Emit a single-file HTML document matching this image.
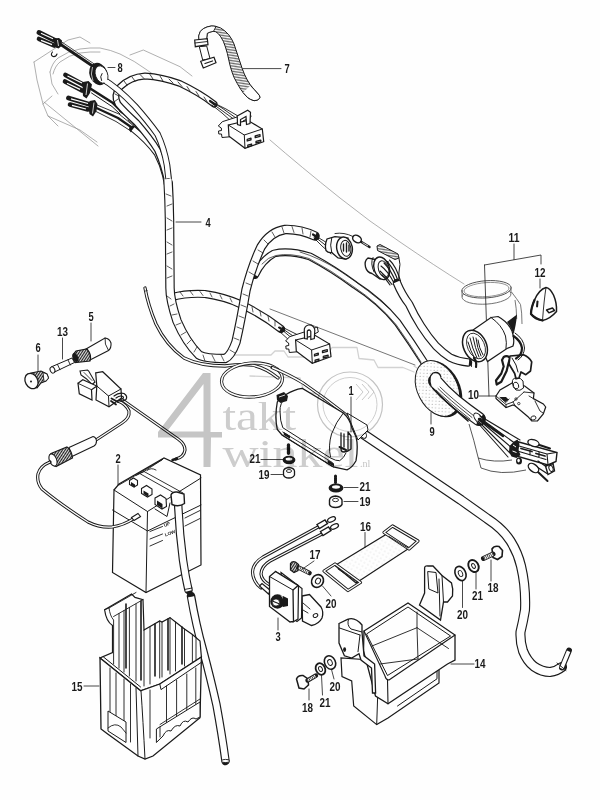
<!DOCTYPE html>
<html><head><meta charset="utf-8">
<style>
html,body{margin:0;padding:0;background:#fefefe;}
body{width:600px;height:800px;overflow:hidden;font-family:"Liberation Sans",sans-serif;}
svg{display:block;position:absolute;left:0;top:0;}
.k{stroke:#1a1a1a;fill:none;stroke-linecap:round;stroke-linejoin:round;}
.g{stroke:#8e8e8e;fill:none;stroke-width:0.7;stroke-linecap:round;stroke-linejoin:round;}
.f{fill:#1a1a1a;stroke:none;}
.w{fill:#fefefe;}
text{font-family:"Liberation Sans",sans-serif;font-weight:bold;fill:#1a1a1a;}
</style></head>
<body>
<svg width="600" height="800" viewBox="0 0 600 800">
<g id="framegray" class="g">
<path d="M34,62 L68,40 L80,37 L90,43"/>
<path d="M34,62 L37,80 L43,104 L48,116 L58,126"/>
<path d="M43,104 L52,96"/>
<path d="M50,72 Q52,63 58,58 Q68,51 80,49 Q90,47.5 100,48 Q111,50 120,54 Q135,61 147,70 L157,77"/>
<path d="M53,74 Q55,66 60,62 Q69,55 80,53 Q90,51.5 100,52"/>
<path d="M50,72 L52,84 L58,94"/>
<path d="M44,102 L98,146"/>
<path d="M48,116 L80,130 L97,142"/>
<path d="M130,55 L143.3,50 L180,66.7 L192,76"/>
<path d="M270,140 Q300,166 340,198 Q370,222 400,242 Q435,266 464,284"/>
<path d="M235,355 L271,355 L275,351 L284,351 L288,357 L326,357 L332,347.5 L357,347.5 L359,358.5 L374,360 L378,367.5 L403,367.5 L414,372" stroke="#d2d2d2" stroke-width="1.3"/>
<path d="M250,376 L300,378 L304,392 L318,394" stroke="#d2d2d2" stroke-width="1.3"/>
<path d="M414,366 Q424,372 430,380" stroke="#d2d2d2" stroke-width="1.3"/>
</g>
<g id="tileA">
<!-- wires from top bullet connector to grommet -->
<path class="k" stroke-width="2.8" d="M60,44 L94,67"/>
<path class="k" stroke-width="0.8" d="M61,41.5 L95,64.5"/>
<!-- small clip -->
<path class="k" stroke-width="1.1" fill="#fefefe" d="M52.5,52 q-2.5,3 0.5,4.5 q3,0.5 4,-2.5"/>
<!-- top bullet pair -->
<path class="k" stroke-width="4.8" d="M39,32.5 L56,41"/>
<path class="k" stroke-width="4.6" d="M39,39 L54,45.5"/>
<path stroke="#fefefe" stroke-width="1.2" fill="none" d="M41,33.3 L53,38.8 M41,40.4 L52,44.6"/>
<path class="f" d="M54,38.5 L59,38 L62,40.5 L61.5,46 L58.5,48.5 L54.5,47 Z"/>
<path stroke="#fefefe" stroke-width="0.8" fill="none" d="M57.5,40 L58.5,46"/>
<!-- bullets 2 -->
<path class="k" stroke-width="4.8" d="M65.5,75 L84,85"/>
<path class="k" stroke-width="4.6" d="M65,81.5 L82,90.5"/>
<path stroke="#fefefe" stroke-width="1.2" fill="none" d="M67.5,76 L82,83 M67,83.2 L80,89.4"/>
<path class="f" d="M83,82 L88.5,81 L92,84.5 L90,93 L86.5,98.5 L83,96 L82.5,90 Z"/>
<path stroke="#fefefe" stroke-width="0.8" fill="none" d="M87.5,83.5 L86,95"/>
<!-- bullets 3 -->
<path class="k" stroke-width="4.8" d="M68.5,98 L90,104.5"/>
<path class="k" stroke-width="4.6" d="M70,104.5 L88,109.5"/>
<path stroke="#fefefe" stroke-width="1.2" fill="none" d="M71,98.8 L88,103.5 M72,105.3 L86,109"/>
<path class="f" d="M89.5,101 L95,100 L97.5,104 L96.5,111 L93,116.5 L89.5,114 L88.5,108 Z"/>
<path stroke="#fefefe" stroke-width="0.8" fill="none" d="M94,102.5 L92.5,113.5"/>
<!-- wires from bullets to bundle -->
<path class="k" stroke-width="2.6" d="M91,89 L113,103 L122,112"/>
<path class="k" stroke-width="1" d="M91.5,93 L112,106.5 L120,114"/>
<path class="k" stroke-width="2.2" d="M96.5,108 L118,118 L131,127"/>
<path class="k" stroke-width="0.9" d="M96,111.5 L116,121.5 L130,130.5"/>
<path class="k" stroke-width="0.9" d="M97,105 L119,114 L140,131"/>
<!-- bundle of wires towards harness -->
<path class="k" stroke-width="6.6" d="M133,129 Q147,140 157,153.5 Q163,165 165.5,176 L167.5,186"/>
<path stroke="#fefefe" stroke-width="4.6" fill="none" d="M133,129 Q147,140 157,153.5 Q163,165 165.5,176 L167.5,187"/>
<path class="k" stroke-width="1.4" d="M130.5,126.5 q-1.5,2.5 0.5,5"/>
<path class="k" stroke-width="0.9" d="M122,112 Q140,126 150,139 M128,120 Q142,131 149,141"/>
<path class="k" stroke-width="1.8" d="M120,111 Q134,121 143,131"/>
<!-- braided branch -->
<path class="k" stroke-width="6.9" d="M168,184 Q164,165 157.6,150.3 Q150,138 136.3,122.3 Q124,111 118,104 Q113,95 120,87 Q130,77 145,76 Q162,77 180,83.5 Q200,93 214,104"/>
<path stroke="#fefefe" stroke-width="4.4" fill="none" stroke-linecap="round" d="M168,184 Q164,165 157.6,150.3 Q150,138 136.3,122.3 Q124,111 118,104 Q113,95 120,87 Q130,77 145,76 Q162,77 180,83.5 Q200,93 214,104"/>
<path class="k" stroke-width="0.8" d="M114,102 l4,-3 M115,94 l4,2 M118,88 l4,2 M124,81 l3,4 M132,77 l3,4 M140,74.5 l4,4 M150,74.5 l3,4.5 M160,76 l3,5 M169,79 l4,4 M178,82 l4,4.5 M187,86.5 l3,4.5 M196,91.5 l3,4.5 M204,97 l3,4.5"/>
<!-- tube from grommet -->
<path class="k" stroke-width="6.6" d="M101,78 Q118,88 135,106.3 Q148,121 157.6,134.3 Q164,148 167,165 L169.5,186"/>
<path stroke="#fefefe" stroke-width="4.6" fill="none" d="M101,78 Q118,88 135,106.3 Q148,121 157.6,134.3 Q164,148 167,165 L169.5,187"/>
<!-- grommet -->
<ellipse cx="98.5" cy="74" rx="9" ry="11.4" transform="rotate(-22 98.5 74)" class="f"/>
<ellipse cx="101.5" cy="74.5" rx="6" ry="9" transform="rotate(-22 101.5 74.5)" fill="#fefefe" stroke="#1a1a1a" stroke-width="0.8"/>
<path stroke="#fefefe" stroke-width="3.9" fill="none" d="M103,79.2 L108,82.5"/>
<path class="k" stroke-width="1" d="M102,73.5 Q99.5,76.5 101.5,80.5"/>
<path stroke="#fefefe" stroke-width="0.7" fill="none" d="M92.5,67 q-2.5,7 0.5,14"/>
<!-- label leader 8 -->
</g>
<g id="tileB">
<defs>
<pattern id="hatch" width="1.6" height="1.6" patternUnits="userSpaceOnUse" patternTransform="rotate(-5)">
<rect width="1.6" height="1.6" fill="#fefefe"/><rect width="1.6" height="0.7" fill="#555"/>
</pattern>
</defs>
<!-- strap 7 -->
<path d="M198.7,36 Q199.5,30.5 203.3,28.7 Q207,26.5 211.3,26 Q216,25.8 220.7,28 Q225,30.5 228.7,34.7 Q232,39 234,44 L238,56 L242,68 Q244,74 247.3,80 Q250,85 254,89.3 L259.3,95.3 Q260.5,97.5 259.3,98.7 Q257.5,100.7 254,100.7 Q250,99.5 247.3,97.3 Q243.5,93.5 240.7,89.3 Q237,83.5 234,77.3 Q231.5,71.5 230,65.3 L227.3,53.3 Q225.5,46.5 223.3,41.3 Q221,36.5 218,33.3 Q215.5,31 212.7,31.3 Q209.5,32 207.3,33.3 L206.5,40 L199,40.5 Z" fill="url(#hatch)" stroke="#1a1a1a" stroke-width="1"/>
<path d="M198.7,36 Q199.5,30.5 203.3,28.7 Q207,26.5 211.3,26 Q214,25.8 216,26.5 L213.5,31.3 Q209.5,32 207.3,33.3 L206.5,40 L199,40.5 Z" fill="#fefefe" stroke="#1a1a1a" stroke-width="0.9"/>
<path d="M243,92.5 L250.5,85.5 L254,89.3 L259.3,95.3 Q260.5,97.5 259.3,98.7 Q257.5,100.7 254,100.7 Q250,99.5 247.3,97.3 Z" fill="#fefefe" stroke="none"/>
<path d="M250.5,85.5 L254,89.3 L259.3,95.3 Q260.5,97.5 259.3,98.7 Q257.5,100.7 254,100.7 Q250,99.5 247.3,97.3 L243,92.5" fill="none" stroke="#1a1a1a" stroke-width="1"/>
<!-- buckle -->
<path d="M194.7,40 L207.3,38.7 L208,44.7 L195.3,46.7 Z" fill="#fefefe" stroke="#1a1a1a" stroke-width="1.2"/>
<path d="M195,43 L207.6,41.5" class="k" stroke-width="0.9"/>
<path d="M199.3,46.7 L206.7,46 L210,58.7 L202.7,60 Z" fill="#fefefe" stroke="#1a1a1a" stroke-width="1"/>
<path d="M200.7,61.3 L214,57.3 L216,62.7 L203.3,68 Z" fill="#fefefe" stroke="#1a1a1a" stroke-width="1.2"/>
<path d="M205,63.5 L212.5,61" class="k" stroke-width="1.3"/>
<!-- thin wires into connector -->
<path class="k" stroke-width="0.9" d="M212,102 L222,108 L236,118 M213,104 L224,112 L235,120 M212,105 L222,113 L232,122 M214,103 L226,109 L238,116"/>
<path class="k" stroke-width="2.2" d="M210,101 L215,104.5"/>
<!-- plate/bracket -->
<path d="M218.3,126.0 L222.3,121.7 L237.0,117.0 L250.0,112.0 L251.0,117.0 L243.0,121.0 L243.0,128.0 L233.0,131.0 L233.0,136.5 L222.0,137.5 L221.5,134.0 L218.8,134.0 L218.5,131.0 L221.5,130.5 L221.3,128.0 Z" fill="#fefefe" stroke="#1a1a1a" stroke-width="1"/>
<path d="M228.3,125.0 L247.7,120.3 L262.3,129.0 L263.7,141.7 L245.0,148.3 L229.0,136.3 Z" fill="#fefefe" stroke="#1a1a1a" stroke-width="1.2"/>
<path class="k" stroke-width="1" d="M228.3,125.0 L244.3,135.0 L262.3,129.0 M244.3,135.0 L245.0,148.3"/>
<path class="k" stroke-width="1.3" d="M247.2,139.4 L251.0,138.2 L251.0,139.8 L247.2,141.0 Z"/>
<path class="k" stroke-width="1.3" d="M255.2,135.8 L260.0,134.6 L260.0,136.4 L255.2,137.6 Z"/>
<path class="k" stroke-width="1.3" d="M247.8,145.2 L251.6,144.0 L251.6,145.6 L247.8,146.8 Z"/>
<path class="k" stroke-width="1.3" d="M256.0,141.4 L260.8,140.2 L260.8,141.8 L256.0,143.0 Z"/>
<path d="M237.2,116.0 L247.7,110.3 L250.5,112.3 L250.0,123.5 L246.5,124.5 L246.0,116.5 L240.5,119.5 L240.5,125.5 L237.5,124.5 Z" fill="#fefefe" stroke="#1a1a1a" stroke-width="1.2"/>
</g>
<g id="tileC">
<!-- thin straight line -->
<path class="k" stroke-width="0.6" d="M270,309 L415,365"/>
<!-- thin wire (left of loop) double line -->
<path class="k" stroke-width="3.3" d="M145,288 Q148,305 156,324 Q166,345 184,358 Q200,366 225,366 Q240,364 252,365 Q266,368 278,378"/>
<path stroke="#fefefe" stroke-width="1.4" fill="none" stroke-linecap="round" d="M145,288 Q148,305 156,324 Q166,345 184,358 Q200,366 225,366 Q240,364 252,365 Q266,368 278,378"/>
<path class="k" stroke-width="0.8" d="M145.5,291 l1.6,-0.4"/>
<!-- branch to connector 2 -->
<path class="k" stroke-width="8.1" stroke-linecap="butt" d="M172,297 Q187,293 205,294 Q225,297 240,304 Q262,314 281,329"/>
<path stroke="#fefefe" stroke-width="5.8" fill="none" d="M172,297 Q187,293 205,294 Q225,297 240,304 Q262,314 281,329"/>
<path class="k" stroke-width="0.7" d="M180,292 l3,4 M190,291 l3,4 M200,291.5 l3,4 M210,293 l2,4 M220,295 l2,4 M230,298 l2,4 M252,307 l1,5 M260,311 l1,5 M268,316 l1,5 M275,321 l0,5"/>
<!-- wires to connector 2 -->
<path class="k" stroke-width="0.9" d="M280,327 L296,338 L304,341 M281,329 L294,340 L300,344 M279,331 L290,341 L297,347 M282,327 L298,335 L306,338"/>
<path class="k" stroke-width="2" d="M279,327.5 L284,331"/>
<!-- lower tube to grommet 9 -->
<path class="k" stroke-width="7.9" stroke-linecap="butt" d="M255,275 Q262,260 274,253.5 Q289,250 310,256.5 Q332,268 355,285 Q380,301 397.5,322.5 Q412,343 424,362 L432,378"/>
<path stroke="#fefefe" stroke-width="5.6" fill="none" d="M255,275 Q262,260 274,253.5 Q289,250 310,256.5 Q332,268 355,285 Q380,301 397.5,322.5 Q412,343 424,362 L432,378"/>
<path class="k" stroke-width="0.7" d="M262,264 Q268,257 276,255.5 Q290,252.5 309,258.5 Q331,270 354,287 Q378,303 396,324.5 Q410,344 421,362"/>
<path class="k" stroke-width="0.7" d="M300,252 Q320,258 340,271 Q370,291 390,309"/>
<!-- loop harness -->
<path class="k" stroke-width="9.5" stroke-linecap="butt" d="M168.2,183 Q169.2,200 169.5,220 L170,288 Q170,300 177,321 Q186,342 199,355 Q205,358.5 225,358.5 Q231,356 236,342 Q241,320 246,290 Q252,266 261,247 Q270,232 285,229.5 Q300,229 315,236"/>
<path stroke="#fefefe" stroke-width="7.2" fill="none" stroke-linecap="butt" d="M167.9,179 Q169.2,200 169.5,220 L170,288 Q170,300 177,321 Q186,342 199,355 Q205,358.5 225,358.5 Q231,356 236,342 Q241,320 246,290 Q252,266 261,247 Q270,232 285,229.5 Q300,229 315,236"/>
<path class="k" stroke-width="0.7" d="M166,194 l5,2 M167,206 l5,-2 M167,218 l5,3 M167,230 l5,-2 M167,242 l5,3 M167,254 l5,-2 M167,266 l5,3 M167,278 l5,-2 M167,296 l4,3 M170,306 l4,-2 M172,315 l5,-1 M176,325 l5,-2 M181,335 l5,-3 M187,344 l4,-4 M194,352 l3,-5 M203,355 l2,6 M212,355 l3,6 M221,355 l3,6 M230,350 l5,3 M234,338 l5,2 M237,327 l5,2 M239,316 l5,2 M241,305 l5,2 M243,294 l5,2 M246,283 l5,2 M249,272 l5,3 M253,261 l5,3 M258,250 l5,3 M264,240 l4,4 M272,232 l3,5 M282,227 l2,6 M292,226.5 l2,6 M302,228 l1,6 M311,231 l-1,6"/>
<!-- wires to socket1 -->
<path class="k" stroke-width="0.9" d="M314,235 L324,241 L332,246 M315,237 L324,244 L331,250 M314,238 L322,246 L331,254"/>
<path class="k" stroke-width="2.2" d="M313,234.5 L318,238"/>
<!-- socket 1 -->
<path d="M335,236.7 L327,239 Q324.5,245 326,250.5 Q328,253 331.7,252.5 L338,258 L346,259 L348,238 Z" fill="#fefefe" stroke="#1a1a1a" stroke-width="1.3"/>
<path class="k" stroke-width="1" d="M331.7,238 Q329.5,245 331.7,252.5"/>
<ellipse cx="344.5" cy="248" rx="7.8" ry="11" transform="rotate(-10 344.5 248)" fill="#fefefe" stroke="#1a1a1a" stroke-width="1.4"/>
<ellipse cx="345.8" cy="248.3" rx="5" ry="8" transform="rotate(-10 345.8 248.3)" fill="#fefefe" stroke="#1a1a1a" stroke-width="1"/>
<path class="k" stroke-width="1.4" d="M343.5,244 v7 M346.5,243 v9 M349,245 v6"/>
<path class="k" stroke-width="0.9" d="M335,233.5 Q344,232 353,236.5"/>
<!-- small bullet -->
<ellipse cx="357" cy="239" rx="4.6" ry="3.4" transform="rotate(30 357 239)" fill="#fefefe" stroke="#1a1a1a" stroke-width="1.5"/>
<path class="k" stroke-width="2.4" d="M361.5,242 L369.5,247"/>
<path stroke="#fefefe" stroke-width="0.8" d="M362.5,242.6 L368,246"/>
<!-- plug with sleeve -->
<path d="M377,246 L380,244.5 L398,254 L399,258 L395,259.5 L377.5,250.5 Z" fill="url(#hatch)" stroke="#1a1a1a" stroke-width="1"/>
<path class="k" stroke-width="1" d="M399,258 Q401,264 399,272 Q398,280 400,285"/>
<!-- socket 2 -->
<path d="M368,258 Q364,261 365.5,267 Q367,272.5 372,273.5 L380,279 L388,262 Z" fill="#fefefe" stroke="#1a1a1a" stroke-width="1.3"/>
<path class="k" stroke-width="1" d="M373,257.5 Q370,263 374,272"/>
<ellipse cx="381.7" cy="268.3" rx="7.6" ry="11.6" transform="rotate(-18 381.7 268.3)" fill="#fefefe" stroke="#1a1a1a" stroke-width="1.4"/>
<ellipse cx="383.5" cy="269" rx="5" ry="8.4" transform="rotate(-18 383.5 269)" fill="#fefefe" stroke="#1a1a1a" stroke-width="1"/>
<path class="k" stroke-width="1.1" d="M381,266 Q388,271 394,283 M384,263 Q391,270 396,282.5 M387,261.5 Q394,269 398.5,282 M380,271 Q386,276 392,284.5 M389.5,260 Q396,266 400.5,281 M382,275 Q386,279 390,285"/>
<!-- tube socket2 -> switch -->
<path class="k" stroke-width="8.5" stroke-linecap="butt" d="M397,283 Q402,295 409,304 Q414,315 421,326 Q428,337 436,346 Q443,353 450,357.5 Q458,361.5 468,362.5"/>
<path stroke="#fefefe" stroke-width="6.2" fill="none" d="M396.6,282 Q402,295 409,304 Q414,315 421,326 Q428,337 436,346 Q443,353 450,357.5 Q458,361.5 469,362.5"/>
<!-- connector 2 block -->
<path d="M285.6,341.0 L289.6,336.7 L304.3,332.0 L317.3,327.0 L318.3,332.0 L310.3,336.0 L310.3,343.0 L300.3,346.0 L300.3,351.5 L289.3,352.5 L288.8,349.0 L286.1,349.0 L285.8,346.0 L288.8,345.5 L288.6,343.0 Z" fill="#fefefe" stroke="#1a1a1a" stroke-width="1"/>
<path d="M295.6,340.0 L315.0,335.3 L329.6,344.0 L331.0,356.7 L312.3,363.3 L296.3,351.3 Z" fill="#fefefe" stroke="#1a1a1a" stroke-width="1.2"/>
<path class="k" stroke-width="1" d="M295.6,340.0 L311.6,350.0 L329.6,344.0 M311.6,350.0 L312.3,363.3"/>
<path class="k" stroke-width="1.3" d="M314.5,354.4 L318.3,353.2 L318.3,354.8 L314.5,356.0 Z"/>
<path class="k" stroke-width="1.3" d="M322.5,350.8 L327.3,349.6 L327.3,351.4 L322.5,352.6 Z"/>
<path class="k" stroke-width="1.3" d="M315.1,360.2 L318.9,359.0 L318.9,360.6 L315.1,361.8 Z"/>
<path class="k" stroke-width="1.3" d="M323.3,356.4 L328.1,355.2 L328.1,356.8 L323.3,358.0 Z"/>
<path d="M304.3,331.0 Q303.8,326.5 308.3,325.0 Q313.8,324.5 314.8,330.0 L314.3,338.5 L310.8,339.5 L310.8,331.5 Q309.3,328.5 307.3,331.0 L307.3,339.0 L304.6,338.5 Z" fill="#fefefe" stroke="#1a1a1a" stroke-width="1.2"/>
</g>
<g id="tileC2">
<defs>
<pattern id="dots" width="3.4" height="3.4" patternUnits="userSpaceOnUse" patternTransform="rotate(30)">
<rect width="3.4" height="3.4" fill="#fefefe"/><circle cx="1" cy="1" r="0.45" fill="#777"/>
</pattern>
</defs>
<!-- ring (frame tube top) -->
<path stroke="#555" fill="none" stroke-width="0.8" d="M511.5,292 Q517,299 520.5,304.5 Q522,312 522,324 M515,300 Q516.5,308 516.7,319"/>
<ellipse cx="486.5" cy="295.5" rx="24.5" ry="8.6" transform="rotate(-4 486.5 295.5)" fill="#fefefe" stroke="#555" stroke-width="0.8"/>
<ellipse cx="486.5" cy="289.3" rx="24.7" ry="8.6" transform="rotate(-4 486.5 289.3)" fill="#fefefe" stroke="#444" stroke-width="0.9"/>
<ellipse cx="486.5" cy="289.6" rx="22.5" ry="7" transform="rotate(-4 486.5 289.6)" fill="none" stroke="#666" stroke-width="0.7"/>
<path stroke="#555" fill="none" stroke-width="0.8" d="M462,290 V296.5 M511,287 V293"/>
<!-- frame tube lower -->
<path stroke="#444" fill="none" stroke-width="0.9" d="M469,424 Q474,440 478,457 L481,468 Q500,476 526,470 M478,458 Q494,463 512,460"/>
<!-- bracket lines 11 -->
<path class="k" stroke-width="0.8" d="M514,244 V259.5 M484.5,265 L541,255 V264 M484.5,265 L489,396 M540,279 V288"/>
<path class="k" stroke-width="0.8" d="M479,396 H497"/>
<!-- key cap 12 -->
<path d="M546,287.5 Q539,289.5 534.5,300 Q531,308 531,314 Q535,319 542.5,320.5 Q550,319 556.5,311.5 Q557,303 553.5,295 Q550,288 546,287.5 Z" fill="#fefefe" stroke="#1a1a1a" stroke-width="1.5"/>
<path class="k" stroke-width="2.2" d="M534.5,300 Q531,308 531,314 Q535,319 542.5,320.5"/>
<path class="k" stroke-width="0.9" d="M546,287.5 Q544,300 542.5,320.5"/>
<path class="f" d="M536.5,301 q1.5,-1 2,0.5 l-0.5,5.5 q-1.2,1 -2,-0.5 Z"/>
<path class="k" stroke-width="1.4" d="M546.5,310 l6,-2 l2,2.5 l-5.6,2.3 Z"/>
<!-- bracket 10 -->
<path d="M496,396 L500,390 L513,382.5 L524.7,386 L534,393 L533.4,398.6 L543.3,404 L545.7,407 L543.3,414 L537.5,421 L531.7,421 L528,416.7 L515.3,406 L513,405 L506,407.5 L496,398.5 Z" fill="#fefefe" stroke="#1a1a1a" stroke-width="1.2"/>
<path class="k" stroke-width="0.9" d="M496,396 L506,404.5 L513,402 L524,392 M506,404.5 L506,407.5 M513,402 L515.3,406 M500,397.5 L506,402.5 L509,399 M524,392 L534,393 M533.4,398.6 L529,396 M535,401 L540,411 L543,413"/>
<path class="f" d="M499.5,397 L505.5,402 L508.5,399.5 L506,397 Z"/>
<ellipse cx="533.4" cy="418" rx="2.6" ry="2" transform="rotate(-20 533.4 418)" fill="#fefefe" stroke="#1a1a1a" stroke-width="0.9"/>
<circle cx="516" cy="399" r="1.2" fill="none" stroke="#1a1a1a" stroke-width="0.8"/>
<circle cx="518.8" cy="403.6" r="1.2" fill="none" stroke="#1a1a1a" stroke-width="0.8"/>
<path d="M512.4,382 Q512,378.5 516,378 Q521,377.5 523,381 L523.5,388 Q520,391.5 516,390 Q512.5,388 512.4,382 Z" fill="#fefefe" stroke="#1a1a1a" stroke-width="1"/>
<ellipse cx="516" cy="385.5" rx="2.6" ry="3.4" transform="rotate(-20 516 385.5)" fill="#fefefe" stroke="#1a1a1a" stroke-width="0.9"/>
<!-- keys -->
<path d="M503.7,357 Q507,355 510,358 L508.3,364 L506.6,371 L501.3,381.7 L496.7,384.5 L496,380.5 L501.3,373.5 L503.7,366.5 L502,360 Z" fill="#fefefe" stroke="#1a1a1a" stroke-width="2.2" stroke-linejoin="round"/>
<path d="M510,356 L523.5,354.8 Q529,357 531.7,361.8 L530.5,371 L525.8,374.7 L521,372 L519,378 L516,378.7 L514.7,373.5 L509,364 Z" fill="#fefefe" stroke="#1a1a1a" stroke-width="1.7" stroke-linejoin="round"/>
<path class="k" stroke-width="1" d="M512,358 L516,365 L518,372"/>
<!-- switch body -->
<path d="M473,330 L491,317.5 L498,316.5 Q508,322 512,331 Q515,340 513,346 L507,348.5 L487.5,361.5 Z" fill="#fefefe" stroke="#1a1a1a" stroke-width="1.2"/>
<path class="k" stroke-width="1" d="M491,317.5 Q502,325 505.5,336 Q507,343 506,348.5"/>
<path class="f" d="M507,322 L517,314.5 Q516,326 513.5,334 Q511,327 507,322 Z"/>
<ellipse cx="475" cy="346" rx="11.5" ry="16.5" transform="rotate(-24 475 346)" fill="#fefefe" stroke="#1a1a1a" stroke-width="1.5"/>
<ellipse cx="476" cy="346" rx="8.5" ry="13.5" transform="rotate(-24 476 346)" fill="#fefefe" stroke="#1a1a1a" stroke-width="0.8"/>
<path class="k" stroke-width="1" d="M470,338 Q472,348 477,358 M473,337 Q475,348 479,357 M476,338 Q477,348 481,356 M478,340 Q479,348 483,355 M468,342 Q470,350 475,359"/>
<!-- key ring -->
<path class="k" stroke-width="2.2" d="M513.5,336 Q521,341 522,348 Q522,355 516,358.5"/>
<path class="k" stroke-width="1" d="M515,333 Q524,339 524.5,348 Q524,356 518,360"/>
<!-- band on tube at switch -->
<path class="k" stroke-width="2.2" d="M474,358 Q477,362 476,367"/>
<path class="k" stroke-width="1" d="M470,359.5 Q472,363 471.5,366.5"/>
<!-- grommet 9 -->
<ellipse cx="439.5" cy="389" rx="20.5" ry="30" transform="rotate(-27 439.5 389)" class="f"/>
<ellipse cx="437.5" cy="388.5" rx="20" ry="29.5" transform="rotate(-27 437.5 388.5)" fill="url(#dots)" stroke="#1a1a1a" stroke-width="1"/>
<!-- tube through grommet -->
<path class="k" stroke-width="14.0" stroke-linecap="butt" d="M435,381 Q444,392 455,401 Q466,410 479,419"/>
<path stroke="#fefefe" stroke-width="11.6" fill="none" stroke-linecap="butt" d="M435,381 Q444,392 455,401 Q466,410 479.5,419.5"/>
<path class="k" stroke-width="0.8" d="M436,390 Q446,400 470,419 M438,388.5 Q448,398.5 472,417.5 M440,387 Q450,397 474,416"/>
<path class="k" stroke-width="1.6" d="M433,388.5 Q444,400 468,421"/>
<path d="M431,386 Q428,377 433,373 Q439,371 441,377" fill="#fefefe" stroke="#1a1a1a" stroke-width="1.3"/>
<ellipse cx="478.5" cy="418.5" rx="3.2" ry="6.4" transform="rotate(-38 478.5 418.5)" fill="#fefefe" stroke="#1a1a1a" stroke-width="1"/>
<!-- wires fan -->
<path class="k" stroke-width="1.1" d="M480,416 L520,440 M480,418 L516,444 M479,420 L512,448 M478,421 L510,453 M477,422 L508,457"/>
<path class="k" stroke-width="2.4" d="M479,419 L503,436"/>
<!-- connector cluster -->
<path d="M517,441.5 L557,452.5 L556,461.5 L548,465 L518,456.5 Z" fill="#fefefe" stroke="#1a1a1a" stroke-width="1.4"/>
<path class="k" stroke-width="1.1" d="M519,446 L547,454 L556,452.5 M547,454 L548,464.5 M519,451.5 L546,459.5 M530,449 L530,455 M539,451.5 L539,457.5"/>
<path class="k" stroke-width="1.8" d="M521,448.5 L532,451.5 M536,453.5 L545,456"/>
<path class="f" d="M509.5,446 L514,441.5 L517.5,439.5 L519.5,444 L518.5,450 L520.5,455 L516.5,458 L511.5,456.5 L509,452 Z"/>
<path stroke="#fefefe" stroke-width="1" fill="none" d="M513,445 l3,2 M512.5,451 l4,1.5"/>
<ellipse cx="533.5" cy="443" rx="5.8" ry="3.2" transform="rotate(18 533.5 443)" fill="#fefefe" stroke="#1a1a1a" stroke-width="1.4"/>
<path class="k" stroke-width="2" d="M539.5,445 L550,448.5"/>
<path d="M545.5,466 L553,463.5 L554.5,471 L548,474.5 Z" fill="#fefefe" stroke="#1a1a1a" stroke-width="1.4"/>
<ellipse cx="551" cy="468.5" rx="2" ry="3.2" transform="rotate(-20 551 468.5)" fill="#fefefe" stroke="#1a1a1a" stroke-width="1"/>
<path class="k" stroke-width="1.3" d="M538,461 L546,466.5 M537,467 L547,473.5"/>
<ellipse cx="533.5" cy="468" rx="6" ry="3.6" transform="rotate(38 533.5 468)" fill="#fefefe" stroke="#1a1a1a" stroke-width="1.4"/>
<path class="k" stroke-width="2" d="M538.5,472.5 L547.5,481"/>
<ellipse cx="519" cy="461" rx="3" ry="3.6" class="f"/>
<ellipse cx="518.6" cy="460.6" rx="1.3" ry="1.8" fill="#fefefe"/>
</g>
<g id="tileD">
<defs>
<pattern id="knurl" width="1.5" height="1.5" patternUnits="userSpaceOnUse" patternTransform="rotate(-22)">
<rect width="1.5" height="1.5" fill="#fefefe"/><rect width="0.85" height="1.5" fill="#222"/>
</pattern>
</defs>
<!-- part 5 fuse holder tube -->
<path d="M86,349 L105,338 Q109.5,338.5 111,343 Q111.5,348 108.5,350.5 L90,360 Z" fill="#fefefe" stroke="#1a1a1a" stroke-width="1.1"/>
<path class="k" stroke-width="0.9" d="M105,338 Q104,344 108.5,350.5"/>
<path d="M73.5,354 Q72,358 75,362.5 L90,361 Q92,355 87,349 L76,351 Z" fill="url(#knurl)" stroke="#1a1a1a" stroke-width="1.2"/>
<ellipse cx="75.5" cy="357.5" rx="2.6" ry="4.6" transform="rotate(-25 75.5 357.5)" class="f"/>
<!-- part 13 fuse -->
<path d="M51,367 L72,358 L74.5,362.5 L53.5,372.5 Z" fill="#fefefe" stroke="#1a1a1a" stroke-width="1"/>
<ellipse cx="52.5" cy="370" rx="2.3" ry="3.2" transform="rotate(-25 52.5 370)" fill="#fefefe" stroke="#1a1a1a" stroke-width="1"/>
<path class="k" stroke-width="0.9" d="M57.5,364.5 l2.5,5.2 M68,360 l2.4,5"/>
<!-- part 6 cap -->
<path d="M31,373 L41,371 L47,374 L48.5,378 L46,381 L41,383 L37,388 Z" fill="url(#knurl)" stroke="#1a1a1a" stroke-width="1.1"/>
<path d="M43,372.5 L47,374 L48.5,378 L46,381 L44,381.5 Z" fill="#fefefe" stroke="#1a1a1a" stroke-width="0.9"/>
<ellipse cx="31.5" cy="381" rx="6.2" ry="8" transform="rotate(-28 31.5 381)" fill="#fefefe" stroke="#1a1a1a" stroke-width="1.3"/>
<circle cx="31" cy="381.5" r="1" class="f"/>
<!-- labels leaders -->
<path class="k" stroke-width="0.8" d="M91,323 V341 M62.5,338 V359 M38,355 V371 M118,465 V485"/>
<!-- wires from connector -->
<path class="k" stroke-width="3.2" d="M118,401 Q126,404 129,411 Q130,418 122,423 L96,440"/>
<path stroke="#fefefe" stroke-width="1.3" fill="none" d="M118,401 Q126,404 129,411 Q130,418 122,423 L96,440"/>
<path class="k" stroke-width="3.2" d="M121,399 L178,439 Q185,444 185,450 Q184,457 176,459"/>
<path stroke="#fefefe" stroke-width="1.3" fill="none" d="M121,399 L178,439 Q185,444 185,450 Q184,457 177,458.7"/>
<path class="k" stroke-width="2.4" d="M172.5,460 L177,458.5"/>
<!-- connector body -->
<path d="M95.7,372.8 L102.7,371.7 L121,389 L121.5,398 L109,406.7 L96,400 L96.8,386 Z" fill="#fefefe" stroke="#1a1a1a" stroke-width="1.2"/>
<path class="k" stroke-width="1" d="M96.8,386 L108.5,396 L121,389 M108.5,396 L109,406.7"/>
<path d="M80,371 L87.5,370 L88.7,371 L95,382 L92,384.5 L86.3,378.7 L81,375 Z" fill="#fefefe" stroke="#1a1a1a" stroke-width="1.1"/>
<path class="k" stroke-width="0.8" d="M84,372.5 L92,380.5"/>
<path d="M78,383.3 L82.8,379.8 L96.8,386 L91.5,389.7 L92,400 L79.3,393.8 Z" fill="#fefefe" stroke="#1a1a1a" stroke-width="1.2"/>
<path class="k" stroke-width="0.9" d="M78,383.3 L91.5,389.7"/>
<path class="k" stroke-width="1.2" d="M114,396 Q119,392 124,393.5 Q128,396 126,399.5 Q123,402 118,400.5 M116,398 Q120,395 123,396.5 Q124.5,398.5 121,399.5"/>
<path class="k" stroke-width="1.8" d="M111.5,398.5 L118,402 M111,401 L116,404.5"/>
<!-- inline fuse holder -->
<path d="M69,447.5 L93,436.5 Q96,437 96.5,441 Q96.5,444.5 94,446 L72,456.5 Z" fill="#fefefe" stroke="#1a1a1a" stroke-width="1.1"/>
<path d="M51,453.5 L67,447 Q71.5,450 72.5,458 L56,466.5 Q50,464 49.5,458 Z" fill="url(#knurl)" stroke="#1a1a1a" stroke-width="1.2"/>
<ellipse cx="53" cy="460" rx="3.6" ry="6.4" transform="rotate(-22 53 460)" fill="#fefefe" stroke="#1a1a1a" stroke-width="1.1"/>
<!-- battery -->
<path d="M114,490 L119,484 L164,458 L200.5,475 L201,565 L146,592.5 L112.5,572.5 Z" fill="#fefefe" stroke="#1a1a1a" stroke-width="1.2"/>
<path class="k" stroke-width="1" d="M114,490 L147.5,511.5 L201,478 M147.5,511.5 L146,592.5 M112.5,510 L147.5,531 L201,505"/>
<path class="k" stroke-width="0.9" d="M119,485 L137,474.5 L144,471.5 L162.5,459.5 M144,471.5 L183,493 M140.5,474 L176,494 M147,470.5 Q151,467 156,470"/>
<path class="k" stroke-width="0.9" d="M150,531.5 L162.5,526.5 M150,539 L162.5,534 M150,546 L162.5,540.5 M185,518 L200,510.5 M185,526 L200,518.5"/>
<text x="164.5" y="527" font-size="4.6" transform="rotate(-20 164.5 527)">UP</text>
<text x="165.5" y="536.5" font-size="4.6" transform="rotate(-20 165.5 536.5)">LOW</text>
<path class="k" stroke-width="0.9" d="M137.5,474 L162.5,459.5 M136,475.5 L144,471.5"/>
<!-- terminals -->
<path d="M129.5,480.5 l4,-2.5 l4,2.5 l0,4.5 l-3.5,2 l-4.5,-2.5 Z M141.5,488.5 l5,-3 l5.5,3.5 l0,5.5 l-4.5,2.5 l-6,-3.5 Z M155,498 l5.5,-3 l5.5,3.5 l0.5,8 l-4.5,2.5 l-7,-4.5 Z" fill="#fefefe" stroke="#1a1a1a" stroke-width="1.1"/>
<path class="f" d="M131,482 l4,2.5 l0,3 l-4,-2.5 Z M143.5,490.5 l5,3 l0,3.5 l-5,-3 Z M157,500.5 l5.5,3.5 l0,4.5 l-5.5,-3.5 Z"/>
<path class="k" stroke-width="1" d="M155,509 L167,516.5 L170,503"/>
<!-- wire from fuse holder to battery -->
<path class="k" stroke-width="3.2" d="M50,462 Q40,466 38,474 Q36.5,482 42,489 Q60,504 88,522 Q100,528 112,527 Q124,525 133,519"/>
<path stroke="#fefefe" stroke-width="1.3" fill="none" d="M50,462 Q40,466 38,474 Q36.5,482 42,489 Q60,504 88,522 Q100,528 112,527 Q124,525 133,519"/>
<!-- terminal wire end -->
<path d="M131.5,517.5 L138,513.5 L140.5,516.5 L134,520.5 Z" fill="#fefefe" stroke="#1a1a1a" stroke-width="1.1"/>
<!-- vent tube upper -->
<path class="k" stroke-width="8.5" stroke-linecap="butt" d="M178,500 Q179,530 183,560 Q185.5,577 188.5,590"/>
<path stroke="#fefefe" stroke-width="6.2" fill="none" stroke-linecap="butt" d="M178,499 Q179,530 183,560 Q185.5,577 188.7,591"/>
<path class="k" stroke-width="0.9" d="M184.5,589.5 l7.5,-1.5"/>
<!-- vent elbow -->
<path d="M171,495 Q172,491.5 177,492 L184,494 L184.5,503.5 Q179,507.5 172,504.5 Z" fill="#fefefe" stroke="#1a1a1a" stroke-width="1.4"/>
<!-- vent tube lower -->
<path class="k" stroke-width="8.5" stroke-linecap="butt" d="M191,596 Q196,625 203,650 Q211,680 216.5,705 Q222,735 225.5,761"/>
<path stroke="#fefefe" stroke-width="6.2" fill="none" stroke-linecap="butt" d="M191,596.5 Q196,625 203,650 Q211,680 216.5,705 Q222,735 225.4,760"/>
<path class="k" stroke-width="0.9" d="M187.5,597 l7,-1.5"/>
<ellipse cx="225.5" cy="761" rx="4" ry="1.6" fill="#fefefe" stroke="#1a1a1a" stroke-width="0.9"/>
<!-- battery box 15 -->
<!-- back tall panel -->
<path d="M104.6,609.7 L131.6,594 L135,597.4 L143,599.6 L144,630 L159.7,621 L162,622 L170,617.6 L175.5,622 L184.5,629 L192.4,634.5 L200,641 L201.4,657 L160,684 L140.6,690.8 L100,658 L112.5,652.5 L112.5,625.5 Q106,621 104.6,609.7 Z" fill="#fefefe" stroke="#1a1a1a" stroke-width="1.2"/>
<path class="k" stroke-width="0.9" d="M104.6,609.7 L109,608 L136,592.5 M109,608 Q110,616 113.6,620 L113.6,664 M113.6,616.5 L143,599.6"/>
<path class="k" stroke-width="0.9" d="M119,613.5 V668 M124,610.5 V672 M129.4,607.5 V676 M136,604 V681 M144,630 V686"/>
<path class="k" stroke-width="0.9" d="M150,627 V684 M159.7,621 V678 M162,622 V677 M170,617.6 V674 M175.5,622 V671 M184.5,629 V666 M192.4,634.5 V662 M196,638 V660"/>
<path class="k" stroke-width="1.6" d="M126,604 V668 M141,601 V680 M155,624 V676 M168,619 V670 M182,627 V664"/>
<!-- outer box -->
<path d="M100,658 L140.6,690.8 L159.8,684 L201.4,657 L200,717.8 L153,756 L145,759 L138,756 L107,733.5 L101,729 Z" fill="#fefefe" stroke="#1a1a1a" stroke-width="1.3"/>
<path class="k" stroke-width="1" d="M103.5,657 L140.6,687 M141,690.8 Q143,720 145,759 M136,688 Q137,720 138,756 M159.8,684 L161,689.6 L201,662.6"/>
<path class="k" stroke-width="0.9" d="M110,668 V712 M116,673 V716 M124,679 V722 M130.5,684 V742 M150,690 V738 M166.5,686 V726 M176.6,680 V720 M186.8,674 V713 M195.8,668 V708"/>
<path d="M108,711 L126,722 L126,742.5 L108,731 Z" fill="#fefefe" stroke="#1a1a1a" stroke-width="1"/>
<path class="k" stroke-width="0.9" d="M108,728 Q115,722 121,727 L126,733"/>
<path d="M156.4,729 L200,702 L200,717 L196,719 Q192,716 188,722 Q183,719 180,726 Q175,724 171,731 Q166,729 163,736 L156.4,742.5 Z" fill="#fefefe" stroke="#1a1a1a" stroke-width="1"/>
<path class="k" stroke-width="0.9" d="M160,727 L160,737 M160,724.5 L200,699"/>
<path class="k" stroke-width="0.8" d="M84,686 H99"/>
</g>
<g id="tileE">
<!-- loop wire ring -->
<ellipse cx="252" cy="380" rx="30.5" ry="17" transform="rotate(-4 252 380)" fill="none" stroke="#1a1a1a" stroke-width="3.2"/>
<ellipse cx="252" cy="380" rx="30.5" ry="17" transform="rotate(-4 252 380)" fill="none" stroke="#fefefe" stroke-width="1.5"/>
<!-- wire from loop to right end of part 1 -->
<path class="k" stroke-width="3.2" d="M272,367.5 Q290,375 303,383 Q325,398 345,414 Q352,421 353,430 Q352,436 348,438"/>
<path stroke="#fefefe" stroke-width="1.5" fill="none" d="M272,367.5 Q290,375 303,383 Q325,398 345,414 Q352,421 353,430 Q352,436 348,438"/>
<!-- long cable -->
<path class="k" stroke-width="10.1" stroke-linecap="butt" d="M362.5,433.5 L461,500 L487,518.5 Q503,529 510.5,541 Q518,553 521,566 Q526,587 525,610 Q523,622 520.5,632 Q520,642 523,651 Q527,661 534,666.5 Q542,672 550,672 Q557,671 562,667"/>
<path stroke="#fefefe" stroke-width="7.8" fill="none" stroke-linecap="butt" d="M362.5,433.5 L461,500 L487,518.5 Q503,529 510.5,541 Q518,553 521,566 Q526,587 525,610 Q523,622 520.5,632 Q520,642 523,651 Q527,661 534,666.5 Q542,672 550,672 Q557,671 562.5,666.5"/>
<path class="k" stroke-width="5.9" stroke-linecap="butt" d="M562,667.5 L569,650.5"/>
<path stroke="#fefefe" stroke-width="3.6" fill="none" stroke-linecap="butt" d="M561.5,668.5 L568.6,651.2"/>
<path class="k" stroke-width="0.9" d="M557,663 L566,670.5"/>
<ellipse cx="362.5" cy="433.5" rx="3" ry="5.4" transform="rotate(-34 362.5 433.5)" fill="#fefefe" stroke="#1a1a1a" stroke-width="1"/>
<!-- part 1 body -->
<path d="M285.6,394.7 Q294,389.5 302,388.3 L343.3,413 Q350,419 352,428 L356,436.8 Q358.5,446 356,460.7 Q352,468 347,469.8 L333.3,467 L282,435 L277.3,429.5 Q274.5,417 277.3,402 Q280,397.5 285.6,394.7 Z" fill="#fefefe" stroke="#1a1a1a" stroke-width="1.3"/>
<path class="k" stroke-width="1" d="M285.6,396.5 Q279.5,404 280,411 Q280,421 282.8,427.7 L330.5,458 Q336,461 339.7,460.7 Q344,458 346,453"/>
<path class="k" stroke-width="0.9" d="M282.8,432 L332.3,462.5 M282,435 L333.3,467"/>
<path class="k" stroke-width="1" d="M343.3,413 Q336,422 331.5,434 Q328,446 330.5,457"/>
<path class="f" d="M283.7,432 l6.3,3.8 l0,3 l-6.3,-3.8 Z M327.7,460 l6.3,3.6 l0,3 l-6.3,-3.6 Z"/>
<!-- cable boot -->
<path d="M347,413 L367,425 L368,430 L358,440 L353,428 Z" fill="#fefefe" stroke="#1a1a1a" stroke-width="1"/>
<!-- left clip -->
<path class="f" d="M276.5,395 L284,392 L288,396 L287,401 L280.5,403 L277,400 Z"/>
<path stroke="#fefefe" stroke-width="0.8" fill="none" d="M279,397 l6,-2"/>
<!-- connector at right end -->
<path class="k" stroke-width="1.3" d="M341,433 L341,449 Q341,452 344,452 L348,451 M344,434 L344,447 M348,432 L348,451 L351,449 L351,436 Z"/>
<path class="k" stroke-width="2" d="M339.5,447 L346,450"/>
<!-- studs -->
<path class="k" stroke-width="3.4" stroke-linecap="butt" stroke-dasharray="1.1 0.7" d="M288.5,445 L288.5,454"/>
<path class="k" stroke-width="3" stroke-linecap="butt" stroke-dasharray="1.1 0.7" d="M335.5,476 L335.5,483"/>
<!-- washers 21 & nuts 19 -->
<ellipse cx="289" cy="460" rx="6.4" ry="4.2" class="f"/><ellipse cx="289" cy="459" rx="3.4" ry="1.5" fill="#fefefe"/>
<path d="M283.5,471 Q284,468 289,467.5 Q294,468 294.5,471 L294.5,475 Q293,478 289,478 Q284.5,478 283.5,475 Z" fill="#fefefe" stroke="#1a1a1a" stroke-width="1.3"/>
<ellipse cx="289" cy="471" rx="2.6" ry="1.5" fill="#fefefe" stroke="#1a1a1a" stroke-width="0.9"/>
<ellipse cx="336" cy="488" rx="7.4" ry="4.6" class="f"/><ellipse cx="336" cy="487" rx="4" ry="1.7" fill="#fefefe"/>
<path d="M329.5,500 Q330,496.5 335.5,496 Q341,496.5 342,500 L342,504.5 Q340,507.5 335.5,507.5 Q330.5,507.5 329.5,504.5 Z" fill="#fefefe" stroke="#1a1a1a" stroke-width="1.4"/>
<ellipse cx="335.5" cy="500" rx="3" ry="1.7" fill="#fefefe" stroke="#1a1a1a" stroke-width="0.9"/>
<!-- leaders -->
<path class="k" stroke-width="0.8" d="M351,397 V432 M261,459.5 H283 M271,474.5 H282.5 M344,487.5 H358 M344,501.5 H358"/>
</g>
<g id="tileF">
<defs><pattern id="dots2" width="4" height="4" patternUnits="userSpaceOnUse" patternTransform="rotate(30)"><rect width="4" height="4" fill="#fefefe"/><circle cx="1" cy="1" r="0.4" fill="#aaa"/></pattern></defs>
<!-- wires from terminals to part 3 -->
<path class="k" stroke-width="3.2" d="M319,526.5 L263,557 Q253,563 252.5,572 Q253,582 261,588"/>
<path stroke="#fefefe" stroke-width="1.3" fill="none" d="M319,526.5 L263,557 Q253,563 252.5,572 Q253,582 261,588"/>
<path class="k" stroke-width="3.2" d="M323,533.5 L270,561 Q261.5,566 261,574 Q261.5,580 269,584.5"/>
<path stroke="#fefefe" stroke-width="1.3" fill="none" d="M323,533.5 L270,561 Q261.5,566 261,574 Q261.5,580 269,584.5"/>
<!-- ring terminals -->
<path d="M317,524.5 L325,520 L327.5,523.5 L319.5,528.5 Z" fill="#fefefe" stroke="#1a1a1a" stroke-width="1.4"/>
<path d="M320.5,531.5 L328.5,527 L331,530.5 L323,535.5 Z" fill="#fefefe" stroke="#1a1a1a" stroke-width="1.4"/>
<ellipse cx="331.5" cy="519.5" rx="4.2" ry="2.2" transform="rotate(-25 331.5 519.5)" fill="#fefefe" stroke="#1a1a1a" stroke-width="1.3"/>
<ellipse cx="334.5" cy="526.5" rx="4.2" ry="2.2" transform="rotate(-25 334.5 526.5)" fill="#fefefe" stroke="#1a1a1a" stroke-width="1.3"/>
<!-- wire sleeve -->
<path d="M259.5,586 L262,583.5 L270.5,590.5 L268.5,594 Z" fill="#fefefe" stroke="#1a1a1a" stroke-width="1.2"/>
<!-- part 3 tab -->
<path d="M302,596 L309.5,594.5 L321,607 Q324,612 322,618 Q319,624 311.5,625.5 L302.5,621 Z" fill="#fefefe" stroke="#1a1a1a" stroke-width="1.3"/>
<ellipse cx="315.5" cy="615.5" rx="2.4" ry="1.8" transform="rotate(-30 315.5 615.5)" fill="#fefefe" stroke="#1a1a1a" stroke-width="1"/>
<path class="k" stroke-width="0.9" d="M303,603 L310,609 M303,610 L308,613"/>
<!-- plates -->
<path d="M281,572.5 L302,588.5 L301.5,618 L297,621.5 L281,610 Z" fill="#fefefe" stroke="#1a1a1a" stroke-width="1.2"/>
<path d="M275.5,571.5 L298.5,585.5 L298,619 L293,622 L275,607 Z" fill="#fefefe" stroke="#1a1a1a" stroke-width="1.2"/>
<path d="M269.5,576.5 L275.5,571.5 L298,585.5 L293,590 L293.5,621.5 L290,622 L269.5,606.5 Z" fill="#fefefe" stroke="#1a1a1a" stroke-width="1.3"/>
<path class="k" stroke-width="1" d="M269.5,576.5 L293,590"/>
<!-- bolt on plate -->
<circle cx="277.5" cy="601.5" r="7.2" class="f"/>
<circle cx="276" cy="602.5" r="3.6" fill="#fefefe" stroke="#1a1a1a" stroke-width="0.8"/>
<path stroke="#fefefe" stroke-width="0.8" fill="none" d="M281,595.5 Q285,599 284.5,605 M283,594.5 Q287.5,599 286.5,606"/>
<path class="k" stroke-width="1.3" d="M273.5,601.5 L278.5,603.5"/>
<path class="f" d="M283,596 L288,598.5 L288,606 L283,607 Z"/>
<!-- bolt 17 -->
<path d="M290.5,563.5 Q292,561 295.5,562 L298.5,564.5 L298,570.5 L294,572.5 L290.5,570 Z" fill="url(#knurl)" stroke="#1a1a1a" stroke-width="1.3"/>
<path class="k" stroke-width="4.6" stroke-linecap="butt" d="M298.5,567.5 L309.5,573"/><path stroke="#fefefe" stroke-width="2.8" fill="none" stroke-linecap="butt" d="M298.5,567.5 L308.8,572.7"/><path stroke="#1a1a1a" stroke-width="2.8" fill="none" stroke-linecap="butt" stroke-dasharray="0.7 1.1" d="M298.5,567.5 L309.5,573"/>
<!-- washer 20 (upper) -->
<ellipse cx="317.5" cy="581" rx="5.8" ry="6.6" transform="rotate(30 317.5 581)" fill="#fefefe" stroke="#1a1a1a" stroke-width="1.6"/>
<ellipse cx="318" cy="581" rx="2.4" ry="3" transform="rotate(30 318 581)" fill="#fefefe" stroke="#1a1a1a" stroke-width="1"/>
<!-- strap 16 -->
<path d="M335,565.5 L386,534.5 L409.5,548 L356,583 Z" fill="url(#dots2)" stroke="#1a1a1a" stroke-width="1.1"/>
<path d="M324,571 L335,564 L360.5,582.5 L348,590.5 Z" fill="none" stroke="#1a1a1a" stroke-width="3.2" stroke-linejoin="round"/>
<path d="M324,571 L335,564 L360.5,582.5 L348,590.5 Z" fill="none" stroke="#fefefe" stroke-width="1.4" stroke-linejoin="round"/>
<path d="M384,532.5 L392.5,526 L418,541 L409,549 Z" fill="none" stroke="#1a1a1a" stroke-width="3.2" stroke-linejoin="round"/>
<path d="M384,532.5 L392.5,526 L418,541 L409,549 Z" fill="none" stroke="#fefefe" stroke-width="1.4" stroke-linejoin="round"/>
<path class="k" stroke-width="0.9" d="M338,569 L357,582 M389,536.5 L408,548"/>
<!-- box 14: rear tab -->
<path d="M424.6,568 Q424.6,565.5 428,566 L433,566 L442,575.5 L451.5,583 Q453.5,589 452.5,596 L447.5,602 L443.5,602 L440.5,620 L419.5,605 L424.6,593 Z" fill="#fefefe" stroke="#1a1a1a" stroke-width="1.3"/>
<path d="M427.7,571.5 L436,572.5 L438,593 L428.8,589 Z" fill="#fefefe" stroke="#1a1a1a" stroke-width="1"/>
<path class="k" stroke-width="1" d="M442,575.5 L443.5,602 M439,579 L440,616"/>
<!-- box 14 lower body -->
<path d="M341,658 L342,676.5 L351.7,681 L353.7,706 L376.7,724.6 L388,718 L439,683 L439,660 L388,690 L370,660 Z" fill="#fefefe" stroke="#1a1a1a" stroke-width="1.2"/>
<path class="k" stroke-width="1" d="M377.7,695.5 L376.7,724.6 M397.5,706 L437,678.8 L437,668"/>
<!-- tray -->
<path d="M364,631 L408,603 L455,635 L455,660 L447.5,664 L388,703.8 L375.5,696 L363.5,651 Z" fill="#fefefe" stroke="#1a1a1a" stroke-width="1.3"/>
<path d="M366.5,634 L408,607 L450.6,636 L387.5,675.5 Z" fill="#fefefe" stroke="#1a1a1a" stroke-width="1"/>
<path class="k" stroke-width="1.1" d="M364,631 L385,676 Q386,680 389,680 L455,635 M387.5,680 L388,703.8"/>
<path class="k" stroke-width="0.9" d="M372,646 L417,627.7 L448.5,648.5 M417,627.7 L417,612 M417,627.7 L418,659 M380,664 L418,659"/>
<!-- left bracket of box -->
<path d="M339,623.5 L347.5,619.4 Q355,616.5 362,625 L362,632 L364,655.8 L374.6,664 L375.6,693 L372.5,693 L371.5,668 L361,660 L359,653.7 L351.7,658 L344.4,655.8 L339,643 Z" fill="#fefefe" stroke="#1a1a1a" stroke-width="1.3"/>
<path class="k" stroke-width="1" d="M348.5,619.4 Q346.5,625 351,629 L362,632 M339.5,628 L360,635 M358,651.7 L360,635"/>
<ellipse cx="344.6" cy="649.6" rx="1.5" ry="2.3" class="f"/>
<!-- bolt 18 lower + washers -->
<path d="M296.5,679 Q298,675 303,675.5 L308,679 L308.5,685 L304,689 L299,688 Z" fill="#fefefe" stroke="#1a1a1a" stroke-width="1.5"/>
<path class="k" stroke-width="4.4" stroke-linecap="butt" d="M307.5,680.5 L316,675.5"/><path stroke="#fefefe" stroke-width="2.6000000000000005" fill="none" stroke-linecap="butt" d="M307.5,680.5 L315.5,675.8"/><path stroke="#1a1a1a" stroke-width="2.6000000000000005" fill="none" stroke-linecap="butt" stroke-dasharray="0.7 1.1" d="M307.5,680.5 L316,675.5"/>
<ellipse cx="320.5" cy="669" rx="4.6" ry="6" transform="rotate(-25 320.5 669)" fill="#fefefe" stroke="#1a1a1a" stroke-width="1.8"/>
<ellipse cx="320.5" cy="669" rx="1.8" ry="2.6" transform="rotate(-25 320.5 669)" fill="#fefefe" stroke="#1a1a1a" stroke-width="0.9"/>
<ellipse cx="330" cy="662.5" rx="5.4" ry="7" transform="rotate(-25 330 662.5)" fill="#fefefe" stroke="#1a1a1a" stroke-width="1.6"/>
<ellipse cx="330" cy="662.5" rx="2.2" ry="3" transform="rotate(-25 330 662.5)" fill="#fefefe" stroke="#1a1a1a" stroke-width="0.9"/>
<!-- bolt 18 right + washers -->
<path d="M492,549 Q494,545.5 499,546.5 L502.5,550.5 L502,556.5 L497.5,559.5 L493,557.5 Z" fill="#fefefe" stroke="#1a1a1a" stroke-width="1.6"/>
<path class="k" stroke-width="5" stroke-linecap="butt" d="M493,554 L483.5,558.5"/><path stroke="#fefefe" stroke-width="3.2" fill="none" stroke-linecap="butt" d="M493,554 L484.1,558.2"/><path stroke="#1a1a1a" stroke-width="3.2" fill="none" stroke-linecap="butt" stroke-dasharray="0.7 1.1" d="M493,554 L483.5,558.5"/>
<ellipse cx="473.5" cy="566" rx="4.8" ry="6.4" transform="rotate(-30 473.5 566)" fill="#fefefe" stroke="#1a1a1a" stroke-width="1.9"/>
<ellipse cx="473.5" cy="566" rx="1.6" ry="2.6" transform="rotate(-30 473.5 566)" fill="#fefefe" stroke="#1a1a1a" stroke-width="0.9"/>
<ellipse cx="460.5" cy="573.5" rx="5.2" ry="7.4" transform="rotate(-25 460.5 573.5)" fill="#fefefe" stroke="#1a1a1a" stroke-width="1.6"/>
<ellipse cx="460.5" cy="573.5" rx="2" ry="3.2" transform="rotate(-25 460.5 573.5)" fill="#fefefe" stroke="#1a1a1a" stroke-width="0.9"/>
<!-- leaders -->
<path class="k" stroke-width="0.8" d="M314,561 L302.5,569 M322.5,586 L331,596 M278,618 V630 M365,532.5 V547.5 M309,689 V700 M321.5,675.5 L322.5,695 M331.5,669.5 L334,679 M491,560 V581 M476,572.5 V589 M462.5,581 V607.5 M451,664 H474"/>
</g>
<g id="labels" font-size="12.6" text-anchor="middle">
<text x="120" y="71.5" textLength="5.2" lengthAdjust="spacingAndGlyphs">8</text>
<text x="287" y="72.5" textLength="5.2" lengthAdjust="spacingAndGlyphs">7</text>
<text x="208" y="226.5" textLength="5.2" lengthAdjust="spacingAndGlyphs">4</text>
<text x="514" y="242.0" textLength="11.0" lengthAdjust="spacingAndGlyphs">11</text>
<text x="540" y="277.0" textLength="11.0" lengthAdjust="spacingAndGlyphs">12</text>
<text x="473.5" y="398.5" textLength="11.0" lengthAdjust="spacingAndGlyphs">10</text>
<text x="432" y="435.5" textLength="5.2" lengthAdjust="spacingAndGlyphs">9</text>
<text x="351" y="395.0" textLength="5.2" lengthAdjust="spacingAndGlyphs">1</text>
<text x="91" y="320.5" textLength="5.2" lengthAdjust="spacingAndGlyphs">5</text>
<text x="62.5" y="335.5" textLength="11.0" lengthAdjust="spacingAndGlyphs">13</text>
<text x="38" y="352.0" textLength="5.2" lengthAdjust="spacingAndGlyphs">6</text>
<text x="118" y="462.5" textLength="5.2" lengthAdjust="spacingAndGlyphs">2</text>
<text x="255" y="462.5" textLength="11.0" lengthAdjust="spacingAndGlyphs">21</text>
<text x="264" y="478.5" textLength="11.0" lengthAdjust="spacingAndGlyphs">19</text>
<text x="365" y="490.5" textLength="11.0" lengthAdjust="spacingAndGlyphs">21</text>
<text x="365" y="506.0" textLength="11.0" lengthAdjust="spacingAndGlyphs">19</text>
<text x="365.5" y="530.5" textLength="11.0" lengthAdjust="spacingAndGlyphs">16</text>
<text x="315" y="558.5" textLength="11.0" lengthAdjust="spacingAndGlyphs">17</text>
<text x="331" y="607.5" textLength="11.0" lengthAdjust="spacingAndGlyphs">20</text>
<text x="278" y="641.0" textLength="5.2" lengthAdjust="spacingAndGlyphs">3</text>
<text x="77" y="691.0" textLength="11.0" lengthAdjust="spacingAndGlyphs">15</text>
<text x="307.5" y="712.0" textLength="11.0" lengthAdjust="spacingAndGlyphs">18</text>
<text x="325" y="707.0" textLength="11.0" lengthAdjust="spacingAndGlyphs">21</text>
<text x="335" y="690.5" textLength="11.0" lengthAdjust="spacingAndGlyphs">20</text>
<text x="493" y="592.0" textLength="11.0" lengthAdjust="spacingAndGlyphs">18</text>
<text x="477.5" y="599.5" textLength="11.0" lengthAdjust="spacingAndGlyphs">21</text>
<text x="462.5" y="618.5" textLength="11.0" lengthAdjust="spacingAndGlyphs">20</text>
<text x="480" y="667.5" textLength="11.0" lengthAdjust="spacingAndGlyphs">14</text>
<path class="k" stroke-width="0.8" d="M108,67.5 H115 M243,68.6 H281 M176,222 H201 M431,412.5 V424"/>
</g>
<g id="watermark" style="mix-blend-mode:multiply" fill="#c6c6c6" stroke="none">
<path fill-rule="evenodd" d="M203,373 L210.5,373 L210.5,432 L222,432 L222,437.5 L211,437.5 L210.5,467 L203.5,467 L203.5,437.5 L158,437.5 L158,432 Z M203.5,384 L167,431.5 L203.5,431.5 Z"/>
<text x="222.5" y="429.7" font-size="39.5" textLength="73.5" lengthAdjust="spacingAndGlyphs" style="font-family:'Liberation Serif',serif;font-weight:normal;fill:#cecece">takt</text>
<text x="222.5" y="467" font-size="39.5" textLength="136" lengthAdjust="spacingAndGlyphs" style="font-family:'Liberation Serif',serif;font-weight:normal;fill:#cecece">winkel</text>
<text x="360" y="467" font-size="10" style="font-family:'Liberation Serif',serif;font-weight:normal;fill:#c4c4c4">.nl</text>
<circle cx="350" cy="404.5" r="32.5" fill="none" stroke="#c4c4c4" stroke-width="1.2"/>
<circle cx="350" cy="404.5" r="27" fill="none" stroke="#cfcfcf" stroke-width="1"/>
<path d="M356,384 l7,8 l-7,8 M362,384 l7,8 l-7,8 M368,385 l6,7 l-6,7" fill="none" stroke="#c4c4c4" stroke-width="0.9"/>
</g>
</svg>
</body></html>
